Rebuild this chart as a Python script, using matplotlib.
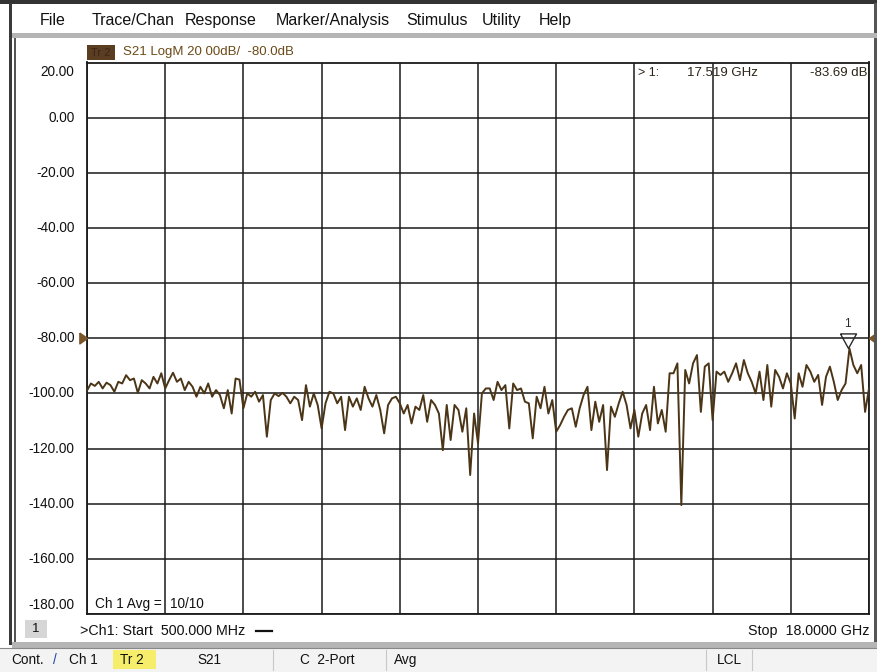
import numpy as np
import matplotlib.pyplot as plt
from matplotlib.patches import Rectangle

plt.rcParams['font.family'] = ['Liberation Sans', 'DejaVu Sans']

# sweep settings
start_ghz, stop_ghz, n_points = 0.5, 18.0, 201

# S21 log magnitude (dB)
s21_db = [
    -99.0, -96.4, -97.3, -95.8, -98.2, -96.1, -97.0, -99.4, -95.8, -96.4,
    -93.4, -95.2, -94.6, -99.8, -95.2, -96.4, -98.2, -94.0, -96.4, -92.7,
    -98.2, -95.2, -92.5, -95.8, -94.6, -98.8, -95.8, -97.6, -101.2, -97.6,
    -100.0, -96.4, -101.2, -98.8, -100.6, -105.4, -98.8, -107.3, -94.6, -95.0,
    -105.4, -100.0, -101.2, -99.4, -103.0, -100.6, -115.7, -102.4, -100.0, -101.0,
    -99.8, -101.2, -103.6, -101.2, -102.4, -109.7, -97.0, -104.8, -100.0, -104.2,
    -112.7, -103.6, -99.4, -100.0, -103.6, -101.2, -113.3, -101.2, -104.8, -101.8,
    -106.0, -97.6, -101.8, -104.8, -100.6, -106.0, -114.5, -104.2, -101.8, -101.2,
    -103.6, -107.3, -104.2, -110.9, -104.8, -106.0, -100.6, -110.3, -102.4, -104.2,
    -107.3, -120.6, -104.2, -116.9, -104.2, -106.0, -113.9, -105.4, -129.6, -107.3,
    -118.1, -100.0, -98.2, -98.2, -102.4, -95.8, -98.8, -97.0, -112.7, -96.4,
    -98.8, -98.2, -103.0, -103.6, -116.3, -101.2, -105.4, -97.6, -107.3, -102.4,
    -113.9, -111.5, -108.5, -106.0, -105.4, -112.1, -105.4, -100.6, -97.6, -113.3,
    -103.0, -110.3, -104.2, -127.8, -104.8, -108.5, -103.6, -99.4, -104.2, -112.7,
    -106.0, -115.7, -107.3, -104.2, -113.3, -97.6, -110.9, -106.0, -113.9, -92.7,
    -92.7, -89.1, -140.5, -91.5, -96.4, -89.1, -86.1, -106.7, -90.3, -89.1,
    -109.7, -92.1, -93.3, -92.1, -95.8, -92.7, -89.1, -95.2, -87.9, -92.7,
    -95.8, -100.0, -92.1, -102.4, -89.7, -104.8, -91.5, -94.0, -98.2, -92.7,
    -96.4, -109.1, -92.7, -97.6, -89.7, -92.1, -95.8, -93.3, -104.2, -94.0,
    -90.3, -95.8, -102.4, -98.8, -96.4, -83.69, -89.7, -92.7, -89.7, -106.7,
    -98.2,
]

y_ticks = [20, 0, -20, -40, -60, -80, -100, -120, -140, -160, -180]
y_tick_labels = ['20.00', '0.00', '-20.00', '-40.00', '-60.00', '-80.00',
                 '-100.00', '-120.00', '-140.00', '-160.00', '-180.00']
ref_level = -80.0
marker_ghz, marker_db = 17.519, -83.69

menu_items = ['File', 'Trace/Chan', 'Response', 'Marker/Analysis',
              'Stimulus', 'Utility', 'Help']

W, H = 877, 672
trace_col = '#4b3516'
brown = '#7a5526'
ink = '#111111'

freqs = np.linspace(start_ghz, stop_ghz, n_points)

fig = plt.figure(figsize=(W / 100, H / 100), dpi=100)
fig.patch.set_facecolor('white')

# graticule
x0, x1, y0, y1 = 87, 869, 62.5, 614
ax = fig.add_axes([x0 / W, 1 - y1 / H, (x1 - x0) / W, (y1 - y0) / H])
ax.plot(freqs, s21_db, color=trace_col, lw=1.4, zorder=3)
ax.set_xlim(start_ghz, stop_ghz)
ax.set_ylim(y_ticks[-1], y_ticks[0])
ax.set_xticks(np.linspace(start_ghz, stop_ghz, 11))
ax.set_yticks(y_ticks)
ax.grid(True, color='#1a1a1a', lw=1.1)
ax.tick_params(length=0, labelbottom=False, labelleft=False)
for sp in ax.spines.values():
    sp.set_color('#1a1a1a')
    sp.set_linewidth(1.3)

# y labels, first and last pulled inside like the analyzer does
step = y_ticks[0] - y_ticks[1]
for v, lab in zip(y_ticks, y_tick_labels):
    pos = v
    if v == y_ticks[0]:
        pos = v - step * 0.17
    elif v == y_ticks[-1]:
        pos = v + step * 0.17
    ax.text(-0.016, pos, lab, transform=ax.get_yaxis_transform(),
            ha='right', va='center', fontsize=9.8, color=ink)

# marker 1, apex sits on the trace
tri_down = [(-0.55, 1.0), (0.55, 1.0), (0.0, 0.0), (-0.55, 1.0)]
ax.plot([marker_ghz], [marker_db], marker=tri_down, ms=21, mfc='none',
        mec='#2a2a2a', mew=1.0, zorder=4)
ax.annotate('1', (marker_ghz, marker_db), xytext=(0, 13),
            textcoords='offset points', ha='center', va='bottom',
            fontsize=8.5, color='#2a2a2a')

# reference level arrows just outside the graticule
tri_right = [(-0.7, 0.5), (-0.7, -0.5), (0.0, 0.0), (-0.7, 0.5)]
tri_left = [(0.7, 0.5), (0.7, -0.5), (0.0, 0.0), (0.7, 0.5)]
ax.plot([start_ghz], [ref_level], marker=tri_right, ms=11, color=brown,
        mec=brown, clip_on=False, zorder=5)
ax.plot([stop_ghz], [ref_level], marker=tri_left, ms=11, color=brown,
        mec=brown, clip_on=False, zorder=5)

# overlay in screen pixels for the analyzer chrome
ov = fig.add_axes([0, 0, 1, 1], zorder=5)
ov.set_xlim(0, W)
ov.set_ylim(H, 0)
ov.axis('off')
ov.patch.set_alpha(0)

# marker readout
ov.text(638, 73, '> 1:', fontsize=9, color='#2b2418', va='center')
ov.text(687, 73, '%.3f GHz' % marker_ghz, fontsize=9.5, color='#2b2418', va='center')
ov.text(867, 73, '%.2f dB' % marker_db, fontsize=9.5, color='#2b2418',
        va='center', ha='right')

# window frame
ov.add_patch(Rectangle((0, 0), W, 3.5, color='#333333', lw=0))
ov.add_patch(Rectangle((8.5, 3), 3.5, 642, color='#3a3a3a', lw=0))
ov.add_patch(Rectangle((13.5, 37), 2.5, 608, color='#555555', lw=0))
ov.add_patch(Rectangle((874, 3), 3, 642, color='#555555', lw=0))
ov.add_patch(Rectangle((12, 33), W - 12, 5, color='#b5b5b5', lw=0))
ov.add_patch(Rectangle((12, 642), W - 12, 6, color='#b5b5b5', lw=0))
ov.add_patch(Rectangle((0, 648), W, H - 648, color='#f3f3f3', lw=0))
ov.plot([0, W], [648, 648], color='#888888', lw=0.8)

# menu bar
menu_x = [40, 92, 185, 276, 406, 482, 539]
for x, item in zip(menu_x, menu_items):
    ov.text(x, 20.5, item, fontsize=11.5, color=ink, va='center')

# trace title
ov.add_patch(Rectangle((87, 45), 28, 15, color='#5b3e22', lw=0))
ov.text(101, 52.5, 'Tr 2', fontsize=8, color='#3b2616', ha='center', va='center')
ov.text(123, 52.5, 'S21 LogM 20 00dB/  -80.0dB', fontsize=9.5,
        color='#6b4a18', va='center')

# averaging readout
ov.text(95, 604, 'Ch 1 Avg =', fontsize=9.8, color=ink, va='center')
ov.text(170, 604, '10/10', fontsize=9.8, color=ink, va='center')

# stimulus line
ov.add_patch(Rectangle((25, 620), 22, 18, color='#d6d6d6', lw=0))
ov.text(36, 629, '1', fontsize=9.5, color=ink, ha='center', va='center')
ov.text(80, 631, '>Ch1: Start  %.3f MHz' % (start_ghz * 1000), fontsize=10.3,
        color=ink, va='center')
ov.plot([256, 272], [631, 631], color=ink, lw=1.6)
ov.text(869, 631, 'Stop  %.4f GHz' % stop_ghz, fontsize=10.3,
        color=ink, va='center', ha='right')

# status bar
ov.add_patch(Rectangle((113, 650), 43, 19, color='#f6ee6a', lw=0))
status = [(11, 'Cont.', ink), (53, '/', '#2040a0'), (69, 'Ch 1', ink),
          (120, 'Tr 2', ink), (197, 'S21', ink),
          (300, 'C  2-Port', ink), (394, 'Avg', ink),
          (717, 'LCL', ink)]
for x, t, c in status:
    ov.text(x, 660, t, fontsize=9.8, color=c, va='center')
for x in [273, 386, 706, 752]:
    ov.plot([x, x], [650, 670], color='#c8c8c8', lw=0.8)

fig.savefig('out.png', dpi=100, facecolor='white')
